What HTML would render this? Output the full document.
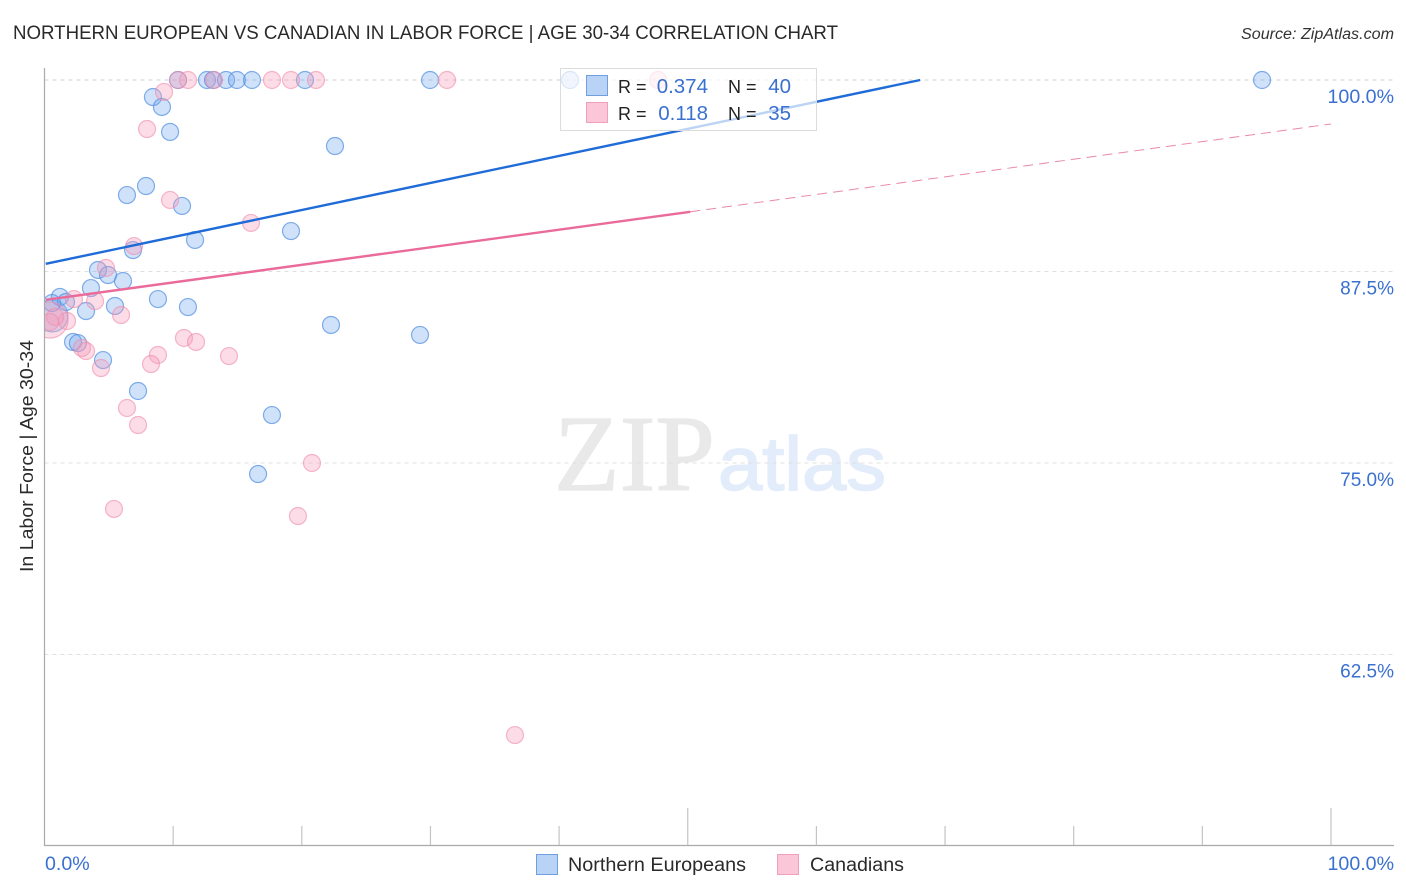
<!DOCTYPE html>
<html lang="en">
<head>
<meta charset="utf-8">
<title>Northern European vs Canadian in Labor Force Correlation Chart</title>
<style>
html,body{margin:0;padding:0;background:#fff;}
svg{display:block;font-family:"Liberation Sans",sans-serif;}
</style>
</head>
<body>
<svg id="chart" width="1406" height="892" viewBox="0 0 1406 892" xmlns="http://www.w3.org/2000/svg">
  <defs>
    <clipPath id="plot-clip"><rect x="45" y="60" width="1349" height="785"></rect></clipPath>
  </defs>
  <text x="13" y="39" font-size="19.5" fill="#2a2a2a" textLength="825" lengthAdjust="spacingAndGlyphs">NORTHERN EUROPEAN VS CANADIAN IN LABOR FORCE | AGE 30-34 CORRELATION CHART</text>
  <text x="1241" y="39" font-size="15.5" font-style="italic" fill="#333" textLength="153" lengthAdjust="spacingAndGlyphs">Source: ZipAtlas.com</text>
  <g>
    <text x="554" y="490" font-family="'Liberation Serif',serif" font-size="108" fill="#e9e9e9" stroke="#e9e9e9" stroke-width="1.2" textLength="161" lengthAdjust="spacingAndGlyphs">ZIP</text>
    <text x="718" y="490" font-size="76" fill="#e2ecfa" stroke="#e2ecfa" stroke-width="1.6" textLength="168" lengthAdjust="spacingAndGlyphs">atlas</text>
  </g>
  <g id="grid"></g>
  <g id="axes"></g>
  <g id="marks" clip-path="url(#plot-clip)"></g>
  <text transform="translate(33,456) rotate(-90)" font-size="18.5" fill="#2a2a2a" text-anchor="middle" textLength="232" lengthAdjust="spacingAndGlyphs">In Labor Force | Age 30-34</text>
  <g>
    <rect x="560.5" y="68.5" width="256" height="62" fill="#fff" fill-opacity="0.7" stroke="#dcdcdc" stroke-width="1"></rect>
    <rect x="586.5" y="75.5" width="21" height="20" fill="#b9d3f6" stroke="#6f9fdf" stroke-width="1"></rect>
    <rect x="586.5" y="102.5" width="21" height="20" fill="#fbc6d8" stroke="#f0a0b8" stroke-width="1"></rect>
    <text x="618" y="93" font-size="18" fill="#222">R =</text>
    <text x="708" y="93" font-size="20.5" fill="#3a70d0" text-anchor="end">0.374</text>
    <text x="728" y="93" font-size="18" fill="#222">N =</text>
    <text x="791" y="93" font-size="20.5" fill="#3a70d0" text-anchor="end">40</text>
    <text x="618" y="120" font-size="18" fill="#222">R =</text>
    <text x="708" y="120" font-size="20.5" fill="#3a70d0" text-anchor="end">0.118</text>
    <text x="728" y="120" font-size="18" fill="#222">N =</text>
    <text x="791" y="120" font-size="20.5" fill="#3a70d0" text-anchor="end">35</text>
  </g>
  <g>
    <rect x="536.5" y="854.5" width="21" height="20" fill="#b9d3f6" stroke="#6f9fdf" stroke-width="1"></rect>
    <text x="568" y="871" font-size="19" fill="#2a2a2a" textLength="178" lengthAdjust="spacingAndGlyphs">Northern Europeans</text>
    <rect x="777.5" y="854.5" width="21" height="20" fill="#fbc6d8" stroke="#f0a0b8" stroke-width="1"></rect>
    <text x="810" y="871" font-size="19" fill="#2a2a2a" textLength="94" lengthAdjust="spacingAndGlyphs">Canadians</text>
  </g>
</svg>
<script>
const xTickValues = [0, 10, 20, 30, 40, 50, 60, 70, 80, 90, 100];
const yTickValues = [100, 87.5, 75, 62.5];
const yTickLabels = ["100.0%", "87.5%", "75.0%", "62.5%"];
const xEndLabels = ["0.0%", "100.0%"];

const blueX = [10.38,12.63,13.10,14.11,14.96,16.13,20.25,29.97,40.85,94.64,8.43,9.13,9.76,22.58,7.89,6.41,10.69,19.16,11.70,6.88,4.16,4.94,6.10,3.61,8.82,1.20,1.67,0.58,5.48,11.15,3.23,22.27,29.19,2.22,2.60,4.55,7.27,17.68,16.60];
const blueY = [100,100,100,100,100,100,100,100,100,100,98.89,98.24,96.61,95.69,93.08,92.49,91.78,90.14,89.56,88.90,87.60,87.27,86.88,86.42,85.70,85.84,85.51,85.44,85.25,85.18,84.92,84.01,83.36,82.90,82.83,81.72,79.70,78.13,74.28];
const blueClusterX = [0.58];
const blueClusterY = [84.60];

const pinkX = [10.38,11.15,13.18,17.68,19.16,21.10,31.29,47.69,9.29,7.97,9.76,16.05,6.96,4.78,2.29,3.93,5.95,1.75,0.82,10.84,11.78,8.82,8.28,14.34,2.91,3.23,4.39,6.41,7.27,20.79,19.70,5.40,36.57,0.43];
const pinkY = [100,100,100,100,100,100,100,100,99.22,96.80,92.17,90.67,89.16,87.73,85.70,85.57,84.66,84.27,84.53,83.16,82.90,82.05,81.46,81.98,82.51,82.31,81.20,78.59,77.48,75.00,71.54,72.00,57.24,84.20];
const pinkClusterX = [0.43];
const pinkClusterY = [84.33];

const blueTrendX = [0.1, 68.07];
const blueTrendY = [88.0, 100];
const pinkSolidX = [0.1, 50.2];
const pinkSolidY = [85.65, 91.4];
const pinkDashX = [50.2, 100];
const pinkDashY = [91.4, 97.13];

const NS = 'http://www.w3.org/2000/svg';
function sx(v){ return 44.5 + v * 12.865; }
function sy(v){ return 80 + (100 - v) * 15.32; }
function make(tag, attrs, parent){
  const el = document.createElementNS(NS, tag);
  for (const k in attrs) el.setAttribute(k, attrs[k]);
  parent.appendChild(el);
  return el;
}
const grid = document.getElementById('grid');
const axes = document.getElementById('axes');
const marks = document.getElementById('marks');

yTickValues.forEach(function(v, i){
  const g = make('line', {x1:44.5, x2:1394, y1:sy(v), y2:sy(v), stroke:v === 100 ? '#d2d2d2' : '#e0e0e0', 'stroke-width':1, 'stroke-dasharray':'4 4'}, grid);
  
  
  const t = make('text', {x:1394, y:sy(v) + 23, 'font-size':yTickLabels[i].length > 5 ? 19.6 : 19, fill:'#3a70d0', 'text-anchor':'end'}, axes);
  t.textContent = yTickLabels[i];
  
  
});

const yAxis = make('line', {x1:44.5, x2:44.5, y1:68, y2:846, stroke:'#aaa', 'stroke-width':1.2}, axes);


const xAxis = make('line', {x1:44, x2:1394, y1:845.5, y2:845.5, stroke:'#aaa', 'stroke-width':1.2}, axes);



xTickValues.forEach(function(v){
  if (v === 0) return;
  const tall = v % 50 === 0;
  const tick = make('line', {x1:sx(v), x2:sx(v), y1:tall ? 808 : 826, y2:845, stroke:'#c4c4c4', 'stroke-width':1.2}, axes);
  
  
});
const xMin = make('text', {x:45, y:870, 'font-size':19.6, fill:'#3a70d0'}, axes);
xMin.textContent = xEndLabels[0];


const xMax = make('text', {x:1394, y:870, 'font-size':19.6, fill:'#3a70d0', 'text-anchor':'end'}, axes);
xMax.textContent = xEndLabels[1];



function drawPoints(xs, ys, r, fill, stroke, fillOpacity, strokeOpacity, name){
  xs.forEach(function(x, i){
    const c = make('circle', {cx:sx(x), cy:sy(ys[i]), r:r, fill:fill, 'fill-opacity':fillOpacity, stroke:stroke, 'stroke-opacity':strokeOpacity, 'stroke-width':1.2}, marks);
    
    
  });
}
drawPoints(blueClusterX, blueClusterY, 16, '#6ea6ee', '#5a94e0', 0.3, 0.7, 'northern-european-cluster');
drawPoints(blueX, blueY, 8.5, '#6ea6ee', '#4f8ddf', 0.32, 0.7, 'northern-european-point');
drawPoints(pinkClusterX, pinkClusterY, 18, '#f59ab8', '#ee8aaa', 0.35, 0.6, 'canadian-cluster');
drawPoints(pinkX, pinkY, 8.5, '#f59ab8', '#ee8aaa', 0.35, 0.6, 'canadian-point');

const blueLine = make('line', {x1:sx(blueTrendX[0]), y1:sy(blueTrendY[0]), x2:sx(blueTrendX[1]), y2:sy(blueTrendY[1]), stroke:'#1f6bd8', 'stroke-width':2.4}, marks);


const pinkLine = make('line', {x1:sx(pinkSolidX[0]), y1:sy(pinkSolidY[0]), x2:sx(pinkSolidX[1]), y2:sy(pinkSolidY[1]), stroke:'#ea6a9a', 'stroke-width':2.4}, marks);


const pinkDash = make('line', {x1:sx(pinkDashX[0]), y1:sy(pinkDashY[0]), x2:sx(pinkDashX[1]), y2:sy(pinkDashY[1]), stroke:'#ea88a8', 'stroke-width':1, 'stroke-dasharray':'10 6'}, marks);


</script>
</body>
</html>
